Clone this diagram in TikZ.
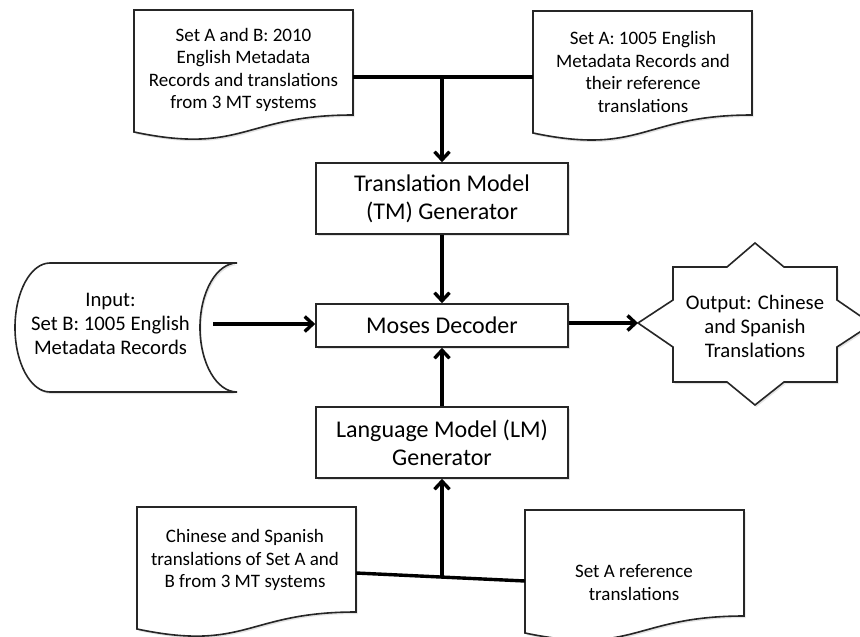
\documentclass[tikz,border=0pt]{standalone}
\usepackage{fontspec}
\setmainfont{Carlito}
\usetikzlibrary{arrows.meta,calc,shadows}
\begin{document}
\begin{tikzpicture}[x=1pt,y=-1pt,
  shapeline/.style={draw=black!85, line width=1.6pt, fill=white,
    drop shadow={shadow xshift=1.5pt, shadow yshift=-2pt, opacity=0.22}},
  conn/.style={line width=3.4pt, draw=black},
  arr/.style={conn, -{Straight Barb[length=8pt,width=15pt]}},
  procbox/.style={shapeline, rectangle, minimum width=252pt, align=center,
    font=\fontsize{24}{28}\selectfont, inner sep=0pt, text=black},
  doctext/.style={align=center, font=\fontsize{19}{22.5}\selectfont, text=black},
  bigtext/.style={align=center, font=\fontsize{20.7}{24}\selectfont, text=black},
]
\clip (0,0) rectangle (860,637);
\fill[white] (0,0) rectangle (860,637);

% document shapes
\draw[shapeline] (134,10) -- (353,10) -- (353,115)
  .. controls (243.5,115) and (243.5,155) .. (134,132) -- cycle;
\draw[shapeline] (533,11) -- (752,11) -- (752,115)
  .. controls (642.5,115) and (642.5,156) .. (533,133) -- cycle;
\draw[shapeline] (137,507) -- (356,507) -- (356,612)
  .. controls (246.5,612) and (246.5,652) .. (137,629) -- cycle;
\draw[shapeline] (525,510) -- (744,510) -- (744,616)
  .. controls (634.5,616) and (634.5,656) .. (525,633) -- cycle;

% stored data (input)
\draw[shapeline] (50,263) -- (237,263)
  .. controls (216.6,263) and (200,291.9) .. (200,327.5)
  .. controls (200,363.1) and (216.6,392) .. (237,392)
  -- (50,392)
  .. controls (30.7,392) and (15,363.1) .. (15,327.5)
  .. controls (15,291.9) and (30.7,263) .. (50,263) -- cycle;

% star (output)
\draw[shapeline] (638,323) -- (673,300) -- (673,267) -- (727,267) -- (755,243)
  -- (784,267) -- (837,267) -- (837,300) -- (872,324) -- (837,347)
  -- (837,382) -- (784,382) -- (755,405) -- (727,382) -- (673,382)
  -- (673,347) -- cycle;

% texts
\node[doctext] (tl) at (243.5,70) {Set A and B: 2010\\English Metadata\\Records and translations\\from 3 MT systems};
\node[doctext] (tr) at (643,72) {Set A: 1005 English\\Metadata Records and\\their reference\\translations};
\node[doctext] (bl) at (245,560) {Chinese and Spanish\\translations of Set A and\\B from 3 MT systems};
\node[doctext] (br) at (634,582.5) {Set A reference\\translations};
\node[bigtext] (in) at (110.5,324) {Input:\\Set B: 1005 English\\Metadata Records};
\node[bigtext] (out) at (755,326) {Output: Chinese\\and Spanish\\Translations};

% process boxes
\node[procbox, minimum height=71pt] (tm) at (442,198.5) {Translation Model\\(TM) Generator};
\node[procbox, minimum height=43pt] (moses) at (442,325.5) {Moses Decoder};
\node[procbox, minimum height=71pt] (lm) at (442,442.5) {Language Model (LM)\\Generator};

% connector points
\coordinate (tlR) at (353,77);
\coordinate (trL) at (533,77);
\coordinate (jt) at (442,77);
\coordinate (blR) at (356,573);
\coordinate (brL) at (525,581);
\coordinate (jb) at (442,577);
\coordinate (inR) at (213,324);
\coordinate (starL) at (638,323);

% connectors
\draw[conn] (tlR) -- (trL);
\draw[arr] (jt) -- (tm.north);
\draw[arr] (tm.south) -- (moses.north);
\draw[arr] (inR) -- (inR -| moses.west);
\draw[arr] (starL -| moses.east) -- (starL);
\draw[arr] (lm.north) -- (moses.south);
\draw[conn] (blR) -- (brL);
\draw[arr] (jb) -- (lm.south);
\end{tikzpicture}
\end{document}
